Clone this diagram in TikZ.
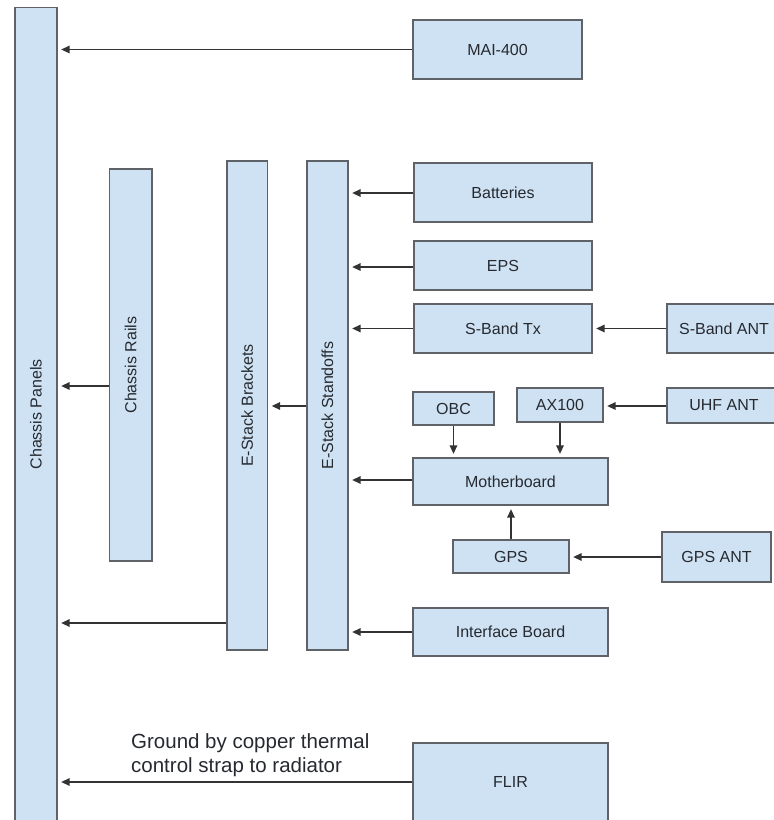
\documentclass[tikz,border=0pt]{standalone}
\usepackage{fontspec}
\setmainfont{Liberation Sans}
\usetikzlibrary{arrows.meta}
\definecolor{boxfill}{HTML}{CFE2F3}
\definecolor{boxline}{HTML}{5F6368}
\definecolor{txt}{HTML}{262A30}
\definecolor{arr}{HTML}{333333}
\tikzset{
  blk/.style={draw=boxline, fill=boxfill, line width=1.3pt, rectangle, inner sep=0pt,
    text=txt, font=\fontsize{16}{19}\selectfont},
  vblk/.style={blk, rotate=90},
  conn/.style={draw=arr, line width=1.4pt, -{Triangle[length=8.5pt,width=7.5pt]}, shorten >=3.5pt}
}
\begin{document}
\begin{tikzpicture}[x=1pt,y=-1pt]
\useasboundingbox (0,0) rectangle (774,820);
\begin{scope}
\clip (0,0) rectangle (774,820);
% vertical bars (rotated: minimum width = vertical length)
\node[vblk, minimum width=813.5, minimum height=42] (panels) at (36,414.25) {Chassis Panels};
\node[vblk, minimum width=392, minimum height=42.5] (rails) at (130.75,365) {Chassis Rails};
\node[vblk, minimum width=489, minimum height=40.5] (brackets) at (247.25,405.5) {E-Stack Brackets};
\node[vblk, minimum width=489, minimum height=41] (standoffs) at (327.5,405.5) {E-Stack Standoffs};
% boxes
\node[blk, minimum width=169, minimum height=59] (mai) at (497.5,49.5) {MAI-400};
\node[blk, minimum width=178, minimum height=59] (bat) at (503,192.5) {Batteries};
\node[blk, minimum width=178, minimum height=49] (eps) at (503,265.5) {EPS};
\node[blk, minimum width=178, minimum height=49] (sbtx) at (503,328.5) {S-Band Tx};
\node[blk, minimum width=114, minimum height=49] (sbant) at (724,328.5) {S-Band ANT};
\node[blk, minimum width=114, minimum height=35] (uhf) at (724,405.5) {UHF ANT};
\node[blk, minimum width=81, minimum height=33] (obc) at (453.5,408.5) {OBC};
\node[blk, minimum width=86, minimum height=34] (ax) at (560,405) {AX100};
\node[blk, minimum width=195, minimum height=47] (mb) at (510.5,481.5) {Motherboard};
\node[blk, minimum width=116, minimum height=33] (gps) at (511,556.5) {GPS};
\node[blk, minimum width=109, minimum height=50] (gpsant) at (716.5,557) {GPS ANT};
\node[blk, minimum width=195, minimum height=48] (ifb) at (510.5,632) {Interface Board};
\node[blk, minimum width=195, minimum height=78] (flir) at (510.5,782) {FLIR};
\end{scope}
% label
\node[anchor=west, align=left, inner sep=0pt, text=txt,
  font=\fontsize{20.5}{24}\selectfont] (lbl) at (131,755) {Ground by copper thermal\\control strap to radiator};
% connectors
\draw[conn] (mai.west) -- (mai.west -| panels.south);
\draw[conn] (bat.west |- 0,193) coordinate (c1) -- (c1 -| standoffs.south);
\draw[conn] (eps.west |- 0,267) coordinate (c2) -- (c2 -| standoffs.south);
\draw[conn] (sbtx.west) -- (sbtx.west -| standoffs.south);
\draw[conn] (sbant.west) -- (sbtx.east);
\draw[conn] (uhf.west |- 0,406) coordinate (c3) -- (c3 -| ax.east);
\draw[conn] (obc.south) -- (obc.south |- mb.north);
\draw[conn] (ax.south) -- (ax.south |- mb.north);
\draw[conn] (gps.north) -- (gps.north |- mb.south);
\draw[conn] (gpsant.west) -- (gpsant.west -| gps.east);
\draw[conn] (mb.west |- 0,480) coordinate (c4) -- (c4 -| standoffs.south);
\draw[conn] (ifb.west) -- (ifb.west -| standoffs.south);
\draw[conn] (standoffs.north |- 0,406) coordinate (c5) -- (c5 -| brackets.south);
\draw[conn] (rails.north |- 0,386) coordinate (c6) -- (c6 -| panels.south);
\draw[conn] (brackets.north |- 0,623) coordinate (c7) -- (c7 -| panels.south);
\draw[conn] (flir.west) -- (flir.west -| panels.south);
\end{tikzpicture}
\end{document}
